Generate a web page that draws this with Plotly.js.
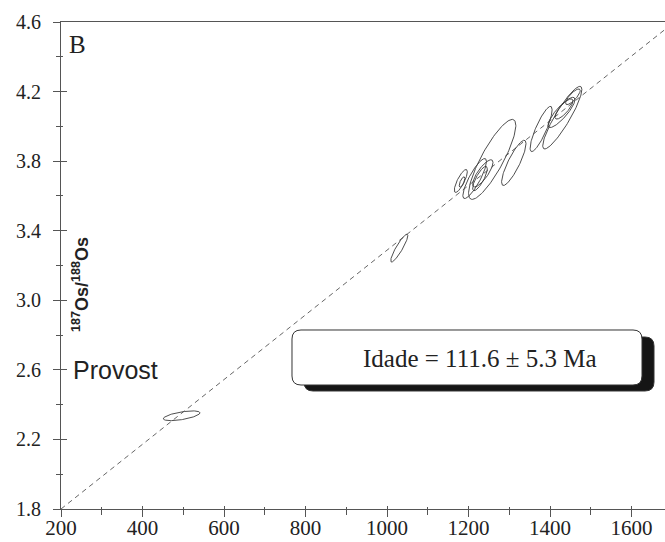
<!DOCTYPE html>
<html>
<head>
<meta charset="utf-8">
<script src="https://cdn.plot.ly/plotly-3.0.1.min.js"></script>
<style>
  html, body { margin: 0; padding: 0; background: #fff; }
  #chart { width: 665px; height: 542px; }
</style>
</head>
<body>
<div id="chart"></div>
<script>
// Re-Os isochron, panel B: 187Re/188Os (x) vs 187Os/188Os (y), 2-sigma error ellipses
// Ellipse centres, half-extents along x and y, and error correlation
const ellX   = [496,   1030,  1181,  1184,  1215,  1235,  1228,  1258,  1311,  1378,  1430,  1428,  1434,  1456];
const ellY   = [2.336, 3.300, 3.686, 3.680, 3.700, 3.730, 3.700, 3.810, 3.790, 3.985, 4.050, 4.080, 4.100, 4.170];
const ellDX  = [45,    21,    16,    7,     29,    25,    18,    58,    30,    27,    48,    33,    22,    18];
const ellDY  = [0.028, 0.080, 0.066, 0.030, 0.115, 0.078, 0.070, 0.230, 0.130, 0.130, 0.180, 0.087, 0.058, 0.045];
const ellRho = [0.60,  0.90,  0.80,  0.70,  0.85,  0.80,  0.80,  0.85,  0.85,  0.85,  0.90,  0.85,  0.80,  0.80];

// Isochron line end points
const isoX = [200, 1682];
const isoY = [1.80, 4.557];

// Axis ranges and tick values
const xRange = [200, 1682];
const yRange = [1.8, 4.6];
const xTicks = [200, 400, 600, 800, 1000, 1200, 1400, 1600];
const yTicks = [1.8, 2.2, 2.6, 3.0, 3.4, 3.8, 4.2, 4.6];

const ageLabel = 'Idade = 111.6 ± 5.3 Ma';
const sampleLabel = 'Provost';
const panelLabel = 'B';

// Error ellipse outline from centre, half-extents and correlation
function ellipse(cx, cy, dx, dy, rho, n) {
  const xs = [], ys = [];
  const s = Math.sqrt(1 - rho * rho);
  for (let i = 0; i <= n; i++) {
    const t = 2 * Math.PI * i / n;
    xs.push(cx + dx * Math.cos(t));
    ys.push(cy + dy * (rho * Math.cos(t) + s * Math.sin(t)));
  }
  return { xs, ys };
}

const traces = [];
traces.push({
  x: isoX, y: isoY, mode: 'lines', type: 'scatter',
  line: { color: '#555', width: 0.9, dash: '5px,4px' },
  hoverinfo: 'skip', showlegend: false
});
for (let i = 0; i < ellX.length; i++) {
  const e = ellipse(ellX[i], ellY[i], ellDX[i], ellDY[i], ellRho[i], 120);
  traces.push({
    x: e.xs, y: e.ys, mode: 'lines', type: 'scatter',
    line: { color: '#3a3a3a', width: 0.9 },
    hoverinfo: 'skip', showlegend: false
  });
}
// companion trace so the overlay tick axes are drawn
traces.push({ x: [isoX[0]], y: [isoY[0]], xaxis: 'x2', yaxis: 'y2',
  mode: 'markers', marker: { opacity: 0 }, hoverinfo: 'skip', showlegend: false });

// plot-area geometry helpers (pixels -> paper)
const L = 61, T = 22, W = 604, H = 487;
const px = p => (p - L) / W;
const py = p => (T + H - p) / H;

function roundRect(x0, y0, x1, y1, r) {
  const P = (x, y) => px(x).toFixed(5) + ',' + py(y).toFixed(5);
  return 'M' + P(x0 + r, y0) +
    ' L' + P(x1 - r, y0) + ' Q' + P(x1, y0) + ' ' + P(x1, y0 + r) +
    ' L' + P(x1, y1 - r) + ' Q' + P(x1, y1) + ' ' + P(x1 - r, y1) +
    ' L' + P(x0 + r, y1) + ' Q' + P(x0, y1) + ' ' + P(x0, y1 - r) +
    ' L' + P(x0, y0 + r) + ' Q' + P(x0, y0) + ' ' + P(x0 + r, y0) + ' Z';
}

const axisColor = '#555';
const serif = '"Liberation Serif", "Times New Roman", serif';
const sans = '"Liberation Sans", Arial, sans-serif';

const layout = {
  width: 665, height: 542,
  margin: { l: L, r: 665 - L - W, t: T, b: 542 - T - H, pad: 0 },
  paper_bgcolor: '#fff', plot_bgcolor: '#fff',
  showlegend: false,
  // bottom axis: labels + inner tick halves
  xaxis: {
    range: xRange, tickvals: xTicks, ticktext: xTicks.map(String),
    showgrid: false, zeroline: false,
    showline: true, linecolor: axisColor, linewidth: 1, mirror: true,
    ticks: 'inside', ticklen: 3, tickwidth: 1, tickcolor: axisColor,
    minor: { dtick: 100, tick0: 100, ticks: 'inside', ticklen: 2, tickwidth: 1, tickcolor: axisColor, showgrid: false },
    tickfont: { family: serif, size: 21, color: '#222' }, ticklabelstandoff: 0
  },
  yaxis: {
    range: yRange, tickvals: yTicks, ticktext: yTicks.map(v => v.toFixed(1)),
    showgrid: false, zeroline: false,
    showline: true, linecolor: axisColor, linewidth: 1,
    ticks: 'outside', ticklen: 7, tickwidth: 1, tickcolor: axisColor,
    minor: { dtick: 0.2, tick0: 2.0, ticks: 'outside', ticklen: 4, tickwidth: 1, tickcolor: axisColor, showgrid: false },
    tickfont: { family: serif, size: 20, color: '#222' }, ticklabelstandoff: 8
  },
  // overlay axes: the other halves of the crossing ticks
  xaxis2: {
    overlaying: 'x', anchor: 'y2', matches: 'x', range: xRange,
    tickvals: xTicks, showticklabels: false, showgrid: false, zeroline: false, showline: false,
    ticks: 'outside', ticklen: 7, tickwidth: 1, tickcolor: axisColor,
    minor: { dtick: 100, tick0: 100, ticks: 'outside', ticklen: 5, tickwidth: 1, tickcolor: axisColor, showgrid: false }
  },
  yaxis2: {
    overlaying: 'y', anchor: 'x2', matches: 'y', range: yRange,
    tickvals: yTicks, showticklabels: false, showgrid: false, zeroline: false, showline: false,
    ticks: 'inside', ticklen: 6, tickwidth: 1, tickcolor: axisColor,
    minor: { dtick: 0.2, tick0: 2.0, ticks: 'inside', ticklen: 2, tickwidth: 1, tickcolor: axisColor, showgrid: false }
  },
  shapes: [
    { type: 'path', xref: 'paper', yref: 'paper', path: roundRect(304, 337, 654, 391, 9),
      fillcolor: '#151515', line: { color: '#333', width: 1 } },
    { type: 'path', xref: 'paper', yref: 'paper', path: roundRect(292, 330, 642, 385, 9),
      fillcolor: '#ffffff', line: { color: '#333', width: 1 } }
  ],
  annotations: [
    { xref: 'paper', yref: 'paper', x: px(67), y: py(45), xanchor: 'left', yanchor: 'middle',
      text: panelLabel, showarrow: false,
      font: { family: serif, size: 25, color: '#222' } },
    { xref: 'paper', yref: 'paper', x: px(71), y: py(370), xanchor: 'left', yanchor: 'middle',
      text: sampleLabel, showarrow: false,
      font: { family: sans, size: 25, color: '#222' } },
    { xref: 'paper', yref: 'paper', x: px(480), y: py(358), xanchor: 'center', yanchor: 'middle',
      text: ageLabel, showarrow: false,
      font: { family: serif, size: 25, color: '#222' } },
    { xref: 'paper', yref: 'paper', x: px(80), y: py(285), xanchor: 'center', yanchor: 'middle',
      text: '<b><sup>187</sup>Os/<sup>188</sup>Os</b>', textangle: -90, showarrow: false,
      font: { family: sans, size: 18, color: '#222' } }
  ]
};

Plotly.newPlot('chart', traces, layout, { staticPlot: true, displayModeBar: false });
</script>
</body>
</html>
